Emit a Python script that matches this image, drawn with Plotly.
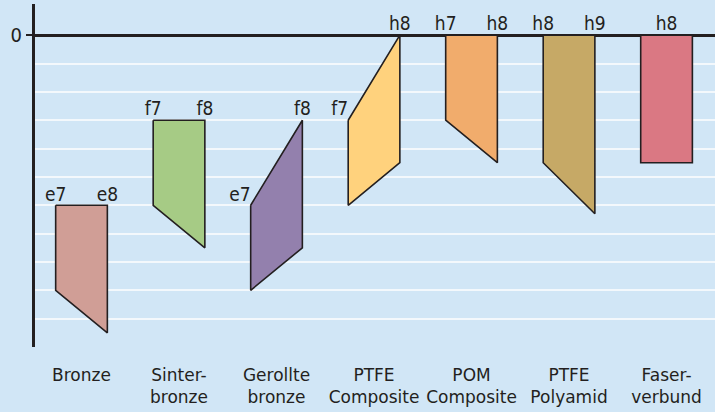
import plotly.graph_objects as go

categories = ["Bronze", "Sinter-<br>bronze", "Gerollte<br>bronze", "PTFE<br>Composite",
              "POM<br>Composite", "PTFE<br>Polyamid", "Faser-<br>verbund"]
left_label = ["e7", "f7", "e7", "f7", "h7", "h8", "h8"]
right_label = ["e8", "f8", "f8", "h8", "h8", "h9", ""]
left_upper = [-6, -3, -6, -3, 0, 0, 0]
left_lower = [-9, -6, -9, -6, -3, -4.5, -4.5]
right_upper = [-6, -3, -3, 0, 0, 0, 0]
right_lower = [-10.5, -7.5, -7.5, -4.5, -4.5, -6.3, -4.5]
colors = ["#D09E96", "#A6CB85", "#9380AD", "#FFD27D", "#F1AC6C", "#C6A966", "#DA7883"]
grid_values = [-11, -10, -9, -8, -7, -6, -5, -4, -3, -2, -1, 1.1]

DARK = "#231F20"
BG = "#D1E6F6"
HW = 0.265
LABEL_FONT = dict(family="DejaVu Sans Condensed, sans-serif", size=19, color=DARK)

fig = go.Figure()
for i, cat in enumerate(categories):
    xs = [i - HW, i + HW, i + HW, i - HW, i - HW]
    ys = [left_upper[i], right_upper[i], right_lower[i], left_lower[i], left_upper[i]]
    fig.add_trace(go.Scatter(x=xs, y=ys, mode="lines", fill="toself",
                             fillcolor=colors[i], line=dict(color=DARK, width=1.6),
                             hoverinfo="skip", showlegend=False))

for i in range(len(categories)):
    if right_label[i] == "":
        fig.add_trace(go.Scatter(x=[i], y=[left_upper[i]], mode="text", text=[left_label[i]],
                                 textposition="top center", textfont=LABEL_FONT,
                                 showlegend=False, hoverinfo="skip"))
        continue
    lpos = "top left" if right_upper[i] - left_upper[i] >= 3 else "top center"
    fig.add_trace(go.Scatter(x=[i - HW], y=[left_upper[i]], mode="text", text=[left_label[i]],
                             textposition=lpos, textfont=LABEL_FONT,
                             showlegend=False, hoverinfo="skip"))
    fig.add_trace(go.Scatter(x=[i + HW], y=[right_upper[i]], mode="text", text=[right_label[i]],
                             textposition="top center", textfont=LABEL_FONT,
                             showlegend=False, hoverinfo="skip"))

fig.update_layout(
    width=715, height=412,
    margin=dict(l=35, r=0, t=4, b=65, autoexpand=False),
    paper_bgcolor=BG, plot_bgcolor=BG,
    showlegend=False,
    xaxis=dict(range=[-0.477, 6.497], showgrid=False, zeroline=False, showline=False,
               tickmode="array", tickvals=list(range(len(categories))), ticktext=categories,
               ticks="", ticklabelstandoff=16,
               tickfont=dict(family="DejaVu Sans, sans-serif", size=17, color=DARK),
               automargin=False, fixedrange=True),
    yaxis=dict(range=[-11, 1.1], tickmode="array", tickvals=[0], ticktext=["0"],
               ticks="outside", ticklen=6, tickwidth=1.5, tickcolor=DARK,
               tickfont=dict(family="DejaVu Sans Condensed, sans-serif", size=20, color=DARK),
               showline=True, linewidth=3.3, linecolor=DARK,
               zeroline=True, zerolinewidth=3.3, zerolinecolor=DARK,
               showgrid=False, automargin=False,
               minor=dict(tickmode="array", tickvals=grid_values, showgrid=True,
                          gridcolor="#F3F8FC", gridwidth=1.5, ticks=""),
               fixedrange=True),
)

fig.write_html("out.html", config={"displayModeBar": False},
               post_script="document.body.style.margin='0';document.body.style.background='" + BG + "';")
